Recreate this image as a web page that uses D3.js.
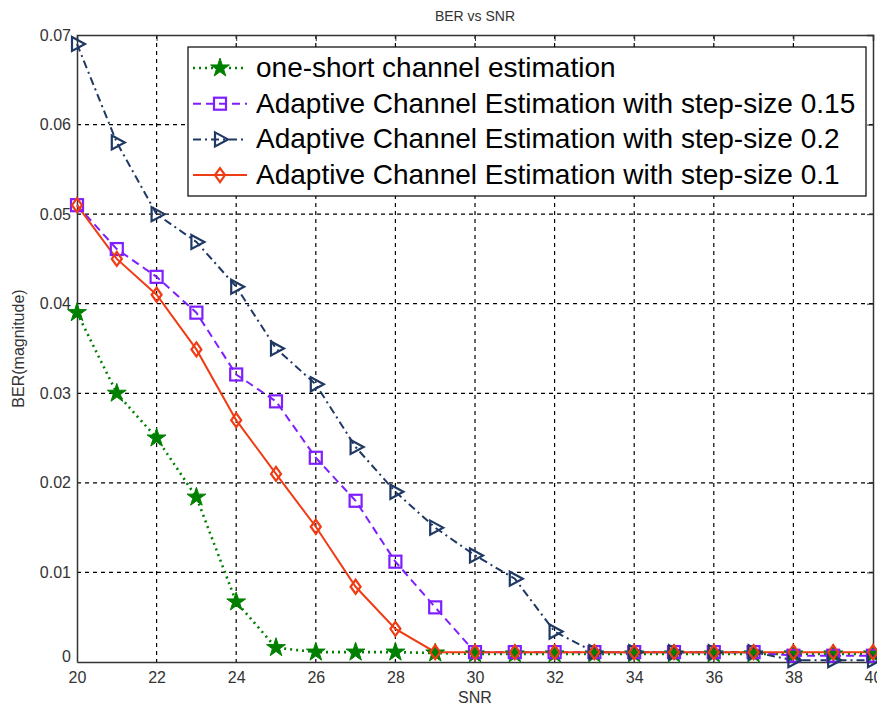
<!DOCTYPE html>
<html><head><meta charset="utf-8">
<script src="https://cdn.jsdelivr.net/npm/d3@7"></script>
<style>body{margin:0;background:#fff}svg{display:block;font-family:"Liberation Sans",Arial,sans-serif}</style>
</head><body><svg id="c" width="877" height="708"></svg>
<script>
const snr = d3.range(20, 41);
const oneShort = [0.039,0.030,0.025,0.0184,0.0067,0.0016,0.0011,0.0011,0.0011,0.001,0.0009,0.0009,0.0009,0.0009,0.0009,0.0009,0.0009,0.0009,0.0009,0.0009,0.0009];
const step015 = [0.051,0.0461,0.043,0.039,0.0321,0.0291,0.0228,0.018,0.0112,0.0061,0.0011,0.0011,0.0011,0.0011,0.0011,0.0011,0.0011,0.0011,0.0007,0.0007,0.0007];
const step02  = [0.069,0.058,0.050,0.0469,0.0419,0.035,0.031,0.024,0.019,0.015,0.0119,0.0093,0.0034,0.0011,0.0011,0.0011,0.0011,0.0011,0.0002,0.0002,0.0002];
const step01  = [0.051,0.045,0.041,0.0349,0.027,0.021,0.0151,0.0084,0.0037,0.0011,0.0011,0.0011,0.0011,0.0011,0.0011,0.0011,0.0011,0.0011,0.0011,0.0011,0.0011];
const xTicks = [20,22,24,26,28,30,32,34,36,38,40];
const yTicks = [0,0.01,0.02,0.03,0.04,0.05,0.06,0.07];
const labels = ["one-short channel estimation","Adaptive Channel Estimation with step-size 0.15","Adaptive Channel Estimation with step-size 0.2","Adaptive Channel Estimation with step-size 0.1"];

const svg = d3.select("#c");
const L=77, R=873, T=35, B=662;
const x = d3.scaleLinear().domain([20,40]).range([L,R]);
const y = d3.scaleLinear().domain([0,0.07]).range([B,T]);

// grid
const g = svg.append("g");
g.selectAll(".vg").data(xTicks.slice(1,-1)).join("line")
  .attr("x1",d=>x(d)).attr("x2",d=>x(d)).attr("y1",T).attr("y2",B)
  .attr("stroke","#000").attr("stroke-width",1.2).attr("stroke-dasharray","4,4");
g.selectAll(".hg").data(yTicks.slice(1,-1)).join("line")
  .attr("x1",L).attr("x2",R).attr("y1",d=>y(d)).attr("y2",d=>y(d))
  .attr("stroke","#000").attr("stroke-width",1.2).attr("stroke-dasharray","4,4");

// axes
const xa = svg.append("g").attr("transform",`translate(0,${B})`)
  .call(d3.axisBottom(x).tickValues(xTicks).tickSize(0).tickPadding(10).tickFormat(d3.format("d")));
const xa2 = svg.append("g").attr("transform",`translate(0,${T})`)
  .call(d3.axisTop(x).tickValues(xTicks).tickSize(-6).tickFormat(""));
const ya = svg.append("g").attr("transform",`translate(${L},0)`)
  .call(d3.axisLeft(y).tickValues(yTicks).tickSize(0).tickPadding(6).tickFormat(d=>d===0?"0":d3.format(".2f")(d)));
const ya2 = svg.append("g").attr("transform",`translate(${R},0)`)
  .call(d3.axisRight(y).tickValues(yTicks).tickSize(-6).tickFormat(""));
[xa,ya].forEach(a=>{a.selectAll("text").attr("font-size",16).attr("fill","#333").attr("font-family","Liberation Sans, Arial");a.select(".domain").attr("stroke","#333").attr("stroke-width",1.5);});
[xa2,ya2].forEach(a=>{a.select(".domain").attr("stroke","#333").attr("stroke-width",1.5);a.selectAll("line").attr("stroke","#333");});
ya.selectAll(".tick text").filter(d=>d===0).attr("dy","-0.05em");

svg.append("text").attr("x",(L+R)/2).attr("y",21).attr("text-anchor","middle").attr("font-size",14).attr("fill","#333").text("BER vs SNR");
svg.append("text").attr("x",(L+R)/2).attr("y",703).attr("text-anchor","middle").attr("font-size",16).attr("fill","#333").text("SNR");
svg.append("text").attr("transform",`translate(24,${(T+B)/2}) rotate(-90)`).attr("text-anchor","middle").attr("font-size",16).attr("fill","#333").text("BER(magnitude)");

const series = [
  {vals:oneShort, color:"#008000", dash:"2,4", w:2.6, sym:"star"},
  {vals:step015, color:"#7f1fff", dash:"8,5", w:2, sym:"square"},
  {vals:step02, color:"#1f3864", dash:"8,4,2,4", w:2, sym:"tri"},
  {vals:step01, color:"#f03c14", dash:null, w:2, sym:"diamond"}
];
function drawSym(sel, type, color){
  if(type==="star"){
    sel.append("path").attr("d",d3.symbol(d3.symbolStar,110)()).attr("fill",color).attr("stroke",color).attr("stroke-width",1);
  } else if(type==="square"){
    sel.append("rect").attr("x",-6).attr("y",-6).attr("width",12).attr("height",12).attr("fill","none").attr("stroke",color).attr("stroke-width",2.2);
  } else if(type==="tri"){
    sel.append("path").attr("d","M-5,-7L8,0L-5,7Z").attr("fill","none").attr("stroke",color).attr("stroke-width",2.2);
  } else {
    sel.append("path").attr("d","M0,-7L5,0L0,7L-5,0Z").attr("fill","none").attr("stroke",color).attr("stroke-width",2.2);
  }
}
const line = d3.line().x((d,i)=>x(snr[i])).y(d=>y(d));
const plot = svg.append("g");
series.forEach(s=>{
  plot.append("path").datum(s.vals).attr("d",line).attr("fill","none").attr("stroke",s.color)
    .attr("stroke-width",s.w).attr("stroke-dasharray",s.dash);
});
series.forEach(s=>{
  plot.selectAll(null).data(s.vals).join("g").attr("transform",(d,i)=>`translate(${x(snr[i])},${y(d)})`)
    .each(function(){drawSym(d3.select(this),s.sym,s.color);});
});

// legend
const lg = svg.append("g");
lg.append("rect").attr("x",188).attr("y",47).attr("width",678).attr("height",149).attr("fill","#fff").attr("stroke","#000").attr("stroke-width",1.2);
series.forEach((s,i)=>{
  const yy = 68 + i*35.7;
  lg.append("line").attr("x1",193).attr("x2",247).attr("y1",yy).attr("y2",yy).attr("stroke",s.color).attr("stroke-width",s.w).attr("stroke-dasharray",s.dash);
  drawSym(lg.append("g").attr("transform",`translate(220,${yy})`), s.sym, s.color);
  lg.append("text").attr("x",256).attr("y",yy+9).attr("font-size",28).attr("fill","#000").text(labels[i]);
});
</script></body></html>
